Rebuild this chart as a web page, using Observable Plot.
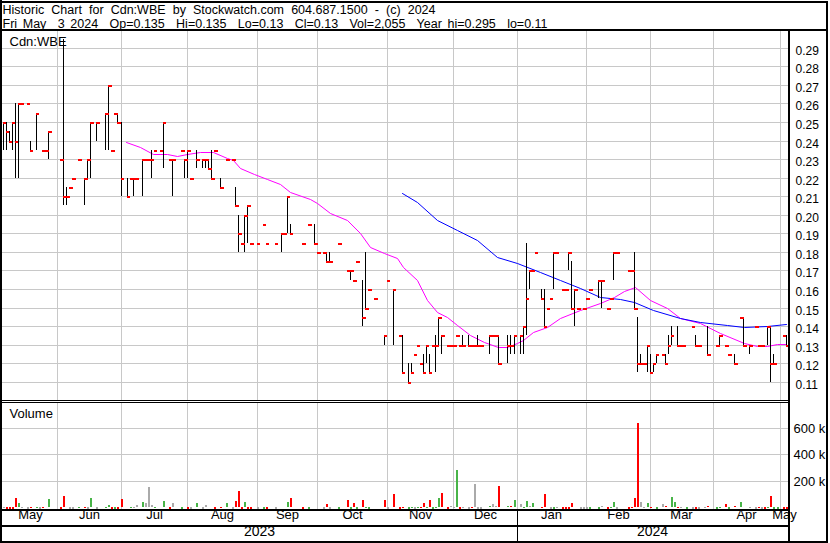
<!DOCTYPE html>
<html>
<head>
<meta charset="utf-8">
<script src="https://cdn.jsdelivr.net/npm/d3@7"></script>
<script src="https://cdn.jsdelivr.net/npm/@observablehq/plot@0.6"></script>
<style>
  html, body { margin: 0; padding: 0; background: #fff; }
  #chart { position: relative; width: 830px; height: 543px; overflow: hidden; background: #fff;
           font-family: "Liberation Sans", Arial, sans-serif; color: #000; }
  .rule { position: absolute; background: #000; }
  .panel { position: absolute; left: 0; }
  .panel svg { display: block; }
</style>
</head>
<body>
<div id="chart">
  <div id="title" class="panel" style="top:0px"></div>
  <div id="price" class="panel" style="top:31px"></div>
  <div id="volume" class="panel" style="top:400px"></div>
</div>
<script>
// ---------------- data ----------------
const titleLines = [
  "Historic Chart for Cdn:WBE by Stockwatch.com 604.687.1500 - (c) 2024",
  "Fri May  3 2024  Op=0.135  Hi=0.135  Lo=0.13  Cl=0.13  Vol=2,055  Year hi=0.295  lo=0.11"
];
const symbolLabel = "Cdn:WBE";
const volumeLabel = "Volume";
const firstSession = "2023-05-08";
const lastSession = "2024-05-03";
const monthStarts = ["2023-06-01","2023-07-01","2023-08-01","2023-09-01","2023-10-01","2023-11-01",
                     "2023-12-01","2024-01-01","2024-02-01","2024-03-01","2024-04-01","2024-05-01"];
const monthNames = ["May","Jun","Jul","Aug","Sep","Oct","Nov","Dec","Jan","Feb","Mar","Apr","May"];
const yearNames = ["2023","2024"];
const yearStart = "2024-01-01";
const priceTicks = [0.11,0.12,0.13,0.14,0.15,0.16,0.17,0.18,0.19,0.20,0.21,0.22,0.23,0.24,0.25,0.26,0.27,0.28,0.29];
const volumeTicks = [200000, 400000, 600000];

// session index = weekday number counted from firstSession
const closeDay = [0,1,2,3,4,5,6,8,9,11,13,14,15,19,20,21,22,23,25,27,28,29,31,34,35,36,37,38,39,41,42,43,44,46,47,48,49,50,52,53,55,56,59,60,61,62,64,66,67,68,69,70,72,74,76,77,78,79,80,81,82,84,86,87,90,92,93,94,95,99,101,103,104,106,107,108,111,114,115,116,117,119,120,121,123,126,127,129,131,132,134,135,136,137,138,139,140,141,142,143,144,145,147,148,149,150,151,152,154,155,156,157,158,161,162,163,164,167,168,169,171,172,173,174,175,176,178,179,180,181,182,183,185,186,187,188,189,190,192,193,194,197,198,200,201,202,203,207,208,209,210,211,212,213,214,215,216,218,219,220,221,223,224,225,228,229,230,233,236,237,239,240,242,244,245,247,249,250,251,253,254,255,258,259];
const closePrice = [0.25,0.245,0.24,0.25,0.24,0.26,0.26,0.26,0.235,0.255,0.235,0.235,0.245,0.23,0.21,0.21,0.215,0.22,0.23,0.22,0.23,0.25,0.25,0.255,0.27,0.235,0.255,0.25,0.22,0.21,0.22,0.22,0.22,0.23,0.23,0.23,0.23,0.235,0.235,0.25,0.23,0.23,0.235,0.23,0.235,0.22,0.23,0.23,0.23,0.225,0.22,0.235,0.215,0.23,0.23,0.205,0.19,0.185,0.2,0.205,0.185,0.185,0.195,0.185,0.185,0.19,0.19,0.21,0.19,0.185,0.195,0.185,0.18,0.18,0.175,0.175,0.185,0.17,0.17,0.165,0.175,0.145,0.15,0.16,0.155,0.135,0.165,0.16,0.135,0.115,0.11,0.115,0.125,0.13,0.12,0.115,0.13,0.115,0.13,0.13,0.145,0.135,0.13,0.13,0.13,0.135,0.13,0.13,0.13,0.13,0.13,0.13,0.13,0.135,0.135,0.135,0.12,0.13,0.13,0.135,0.135,0.14,0.155,0.17,0.17,0.18,0.155,0.14,0.15,0.155,0.18,0.18,0.16,0.16,0.18,0.15,0.16,0.15,0.15,0.155,0.16,0.165,0.165,0.15,0.155,0.18,0.18,0.17,0.17,0.15,0.12,0.12,0.12,0.13,0.115,0.12,0.125,0.125,0.12,0.13,0.135,0.13,0.13,0.13,0.14,0.13,0.13,0.125,0.13,0.135,0.13,0.125,0.12,0.145,0.13,0.13,0.14,0.13,0.13,0.14,0.12,0.12,0.135,0.13];

const rangeDay  = [0,1,2,3,4,5,9,11,15,20,21,27,28,29,31,34,35,38,39,41,43,46,49,53,56,60,61,64,66,67,68,69,72,77,78,80,81,92,94,95,103,107,108,115,119,120,126,129,132,134,135,139,140,141,143,144,145,152,154,157,161,164,167,168,169,171,172,173,174,178,179,182,187,188,189,197,198,202,209,210,211,213,214,215,216,219,220,221,223,229,233,237,242,245,247,253,254,255,259];
const rangeHigh = [0.25,0.25,0.245,0.25,0.26,0.26,0.24,0.255,0.245,0.295,0.215,0.22,0.23,0.25,0.25,0.255,0.27,0.255,0.25,0.22,0.22,0.23,0.235,0.25,0.23,0.23,0.235,0.235,0.23,0.23,0.23,0.235,0.22,0.215,0.2,0.2,0.205,0.19,0.21,0.195,0.195,0.18,0.18,0.17,0.165,0.18,0.135,0.16,0.135,0.12,0.12,0.125,0.13,0.125,0.135,0.145,0.135,0.135,0.135,0.135,0.135,0.135,0.135,0.135,0.135,0.135,0.14,0.185,0.17,0.16,0.16,0.18,0.18,0.175,0.16,0.165,0.165,0.18,0.18,0.145,0.125,0.13,0.125,0.12,0.125,0.125,0.135,0.14,0.14,0.135,0.14,0.135,0.125,0.145,0.13,0.14,0.14,0.125,0.135];
const rangeLow  = [0.235,0.235,0.24,0.235,0.22,0.22,0.235,0.235,0.23,0.205,0.205,0.205,0.22,0.22,0.24,0.235,0.235,0.25,0.21,0.21,0.21,0.21,0.22,0.225,0.21,0.22,0.22,0.225,0.225,0.225,0.225,0.22,0.215,0.205,0.18,0.18,0.185,0.18,0.19,0.19,0.185,0.175,0.175,0.165,0.14,0.15,0.13,0.13,0.115,0.11,0.115,0.115,0.12,0.115,0.115,0.13,0.125,0.13,0.13,0.13,0.125,0.12,0.12,0.125,0.125,0.125,0.125,0.135,0.16,0.155,0.14,0.16,0.17,0.15,0.14,0.155,0.15,0.165,0.15,0.115,0.12,0.115,0.115,0.115,0.12,0.12,0.125,0.13,0.13,0.13,0.125,0.13,0.12,0.13,0.125,0.13,0.11,0.12,0.13];

const volDay    = [0,1,2,3,4,5,6,8,9,11,12,13,14,15,19,20,21,22,23,25,27,28,29,31,34,35,36,37,38,39,41,42,43,44,46,47,48,49,50,53,55,56,59,60,61,62,64,66,67,68,69,70,72,74,76,77,78,79,80,81,82,84,86,87,90,92,94,95,99,101,103,104,106,107,108,111,114,115,116,117,119,120,121,123,126,127,129,131,132,134,135,136,137,138,139,140,141,142,143,144,145,147,148,149,150,151,152,154,155,156,157,158,159,161,162,163,164,167,168,169,171,172,173,174,175,176,178,179,180,181,182,183,185,186,187,188,189,190,191,192,193,194,197,198,200,201,202,203,207,208,209,210,211,212,213,214,215,216,218,219,220,221,222,223,224,226,228,229,230,232,233,236,237,239,240,242,244,245,247,249,250,251,252,253,254,255,256,258,259];
const volAmount = [10000,3000,3000,3000,80000,42500,5000,3000,10000,5000,3000,5000,12500,72500,3000,95000,12500,3000,3000,5000,5000,3000,80000,3000,5000,27500,3000,3000,3000,72500,12500,5000,5000,27500,55000,47500,162500,27500,5000,62500,3000,47500,3000,12500,3000,3000,47500,3000,27500,12500,12500,3000,5000,47500,3000,57500,137500,3000,55000,3000,3000,3000,3000,3000,3000,17500,55000,80000,3000,3000,17500,17500,3000,40000,3000,3000,67500,3000,47500,3000,67500,5000,3000,17500,67500,3000,115000,3000,10000,3000,5000,3000,5000,10000,47500,10000,70000,3000,10000,85000,122500,3000,25000,10000,295000,3000,10000,3000,4000,190000,3000,3000,17500,25000,35000,25000,175000,25000,25000,67500,35000,10000,62500,25000,42500,17500,4000,115000,17500,3000,3000,4000,3000,3000,3000,47500,12500,17500,3000,3000,3000,3000,3000,25000,3000,4000,55000,3000,3000,4000,80000,647500,55000,10000,47500,10000,17500,3000,35000,25000,17500,87500,55000,10000,10000,3000,3000,3000,3000,10000,25000,3000,10000,35000,3000,25000,55000,17500,4000,3000,4000,3000,3000,10000,100000,3000,3000,3000,2055];
const volDir    = ["f","d","d","d","d","u","f","f","d","u","f","d","f","u","d","d","f","f","f","u","d","f","u","f","u","u","d","u","d","d","d","u","f","f","u","f","f","f","u","u","d","f","u","d","d","f","u","f","f","f","d","d","d","u","f","d","d","d","u","d","d","f","u","d","f","u","u","d","d","u","d","d","f","d","f","u","d","u","d","u","d","u","u","d","d","f","d","d","d","u","u","f","u","d","d","u","d","u","u","u","d","d","f","f","u","d","f","f","d","f","f","f","d","u","f","f","d","u","d","u","f","u","u","f","u","u","d","d","u","f","u","f","d","d","d","d","u","d","f","f","f","u","u","f","d","u","u","f","d","d","d","d","f","f","u","d","u","u","f","d","u","u","u","d","f","u","f","d","f","f","d","u","u","d","u","d","u","d","f","f","d","f","d","u","d","u","u","d","d"];

const maShortDay = [40.8,45.5,49.8,54.4,57.6,60.9,65.3,69.6,74.2,76.3,78.6,83.0,87.4,91.8,95.1,101.7,103.9,108.3,113.9,118.3,121.6,126.0,130.4,132.6,137.0,140.3,143.6,146.9,150.3,154.7,159.1,164.0,166.8,170.1,172.3,175.6,180.0,184.4,191.0,197.6,202.1,205.4,209.3,214.2,219.8,224.2,230.8,237.4,245.1,249.5,252.8,256.2,259];
const maShortVal = [0.2392,0.2364,0.2326,0.2326,0.2317,0.2327,0.2338,0.2338,0.2304,0.2295,0.225,0.2218,0.2191,0.2166,0.2124,0.2083,0.2062,0.2008,0.1972,0.19,0.1828,0.1792,0.1765,0.172,0.1648,0.154,0.1478,0.145,0.1406,0.1352,0.1316,0.1289,0.1289,0.1307,0.1325,0.137,0.1397,0.1442,0.1487,0.1523,0.1558,0.1591,0.1612,0.154,0.1496,0.1442,0.1415,0.1361,0.1307,0.1292,0.1292,0.1303,0.1303];
const maLongDay = [132.1,137.0,143.6,150.3,156.9,163.5,170.1,177.8,184.4,191.0,197.6,204.3,208.7,215.3,224.2,230.8,239.6,245.1,252.8,259];
const maLongVal = [0.2116,0.2070,0.1972,0.1918,0.1864,0.1774,0.1738,0.1693,0.1648,0.1603,0.1558,0.1544,0.1531,0.1487,0.1442,0.1424,0.1406,0.1397,0.14,0.1411];

// ---------------- build ----------------
const chart = document.getElementById("chart");
const GRID = "#c8c8c8";
const FONT = '"Liberation Sans", Arial, sans-serif';
const style = {fontFamily: FONT, fontSize: "12px", color: "#000", background: "transparent", overflow: "visible"};

function session(s) {
  const days = Math.round((Date.parse(s + "T00:00:00Z") - Date.parse(firstSession + "T00:00:00Z")) / 864e5);
  return Math.floor(days / 7) * 5 + Math.min(days % 7, 4);
}
const lastIdx = session(lastSession);
const xDomain = [-0.2, lastIdx + 0.8];
const monthLines = monthStarts.map(session);
const bounds = [xDomain[0], ...monthLines, xDomain[1]];
const monthMid = monthNames.map((_, i) => (bounds[i] + bounds[i + 1]) / 2);
const yearBreak = session(yearStart);
const yearMid = [(xDomain[0] + yearBreak) / 2, (yearBreak + xDomain[1]) / 2];

const closes = closeDay.map((d, i) => ({day: d, close: closePrice[i]}));
const ranges = rangeDay.map((d, i) => ({day: d, high: rangeHigh[i], low: rangeLow[i]}));
const vols = volDay.map((d, i) => ({day: d, vol: volAmount[i], dir: volDir[i]}));
const maS = maShortDay.map((d, i) => ({day: d, v: maShortVal[i]}));
const maL = maLongDay.map((d, i) => ({day: d, v: maLongVal[i]}));

// title block (two header lines)
const TITLE_SIZE = 12.5;
const title = Plot.plot({
  width: 830, height: 31, margin: 0,
  style,
  marks: [
    Plot.text([titleLines[0]], {text: d => d, frameAnchor: "top-left", dx: 2, dy: 13.5, lineAnchor: "bottom",
                                textAnchor: "start", fontSize: TITLE_SIZE}),
    Plot.text([titleLines[1]], {text: d => d, frameAnchor: "top-left", dx: 2, dy: 27.4, lineAnchor: "bottom",
                                textAnchor: "start", fontSize: TITLE_SIZE})
  ]
});
document.getElementById("title").appendChild(title);
// stretch the word gaps so each header line spans the same width as in the original layout
const titleWidths = [433, 545];
title.querySelectorAll("text").forEach((t, i) => {
  t.style.whiteSpace = "pre";
  const natural = t.getComputedTextLength();
  const spaces = (titleLines[i].match(/ /g) || []).length;
  const extra = Math.max(0, (titleWidths[i] - natural) / spaces);
  t.style.wordSpacing = extra.toFixed(2) + "px";
});

const price = Plot.plot({
  width: 830, height: 369,
  marginLeft: 2, marginRight: 42, marginTop: 0, marginBottom: 0,
  style,
  x: {type: "linear", domain: xDomain, round: true, axis: null},
  y: {domain: [0.11, 0.29], range: [350.7, 16.8], round: true},
  marks: [
    Plot.ruleY(priceTicks, {stroke: GRID}),
    Plot.ruleX(monthLines, {stroke: GRID}),
    Plot.axisY(priceTicks, {anchor: "right", tickSize: 0, tickPadding: 7, tickFormat: d3.format(".2f"),
                            fontSize: 12, dy: 2.4, label: null}),
    Plot.line(maS, {x: "day", y: "v", stroke: "#ff00ff", strokeWidth: 1}),
    Plot.line(maL, {x: "day", y: "v", stroke: "#0000ff", strokeWidth: 1}),
    Plot.ruleX(ranges, {x: "day", y1: "low", y2: "high", stroke: "#000"}),
    Plot.ruleY(closes, {y: "close", x1: "day", x2: d => d.day + 1.2, stroke: "#ff0000", strokeWidth: 2, dy: 0.5}),
    Plot.text([symbolLabel], {text: d => d, frameAnchor: "top-left", dx: 7, dy: 5.5, lineAnchor: "top",
                              textAnchor: "start", fontSize: 13})
  ]
});
document.getElementById("price").appendChild(price);

const volume = Plot.plot({
  width: 830, height: 143,
  marginLeft: 2, marginRight: 42, marginTop: 2, marginBottom: 34,
  style,
  x: {type: "linear", domain: xDomain, round: true, axis: null},
  y: {domain: [0, 800000], range: [107, 1], round: true},
  color: {domain: ["u", "d", "f"], range: ["#48b448", "#ff0000", "#aaaaaa"]},
  marks: [
    Plot.ruleY(volumeTicks, {stroke: GRID}),
    Plot.ruleX(monthLines, {stroke: GRID}),
    Plot.axisY(volumeTicks, {anchor: "right", tickSize: 0, tickPadding: 5, tickFormat: d => d / 1000 + " k",
                             fontSize: 13, dy: 0.8, label: null}),
    Plot.ruleX(vols, {x: "day", y1: 0, y2: "vol", stroke: "dir", strokeWidth: 2, dx: 0.5, insetBottom: -2}),
    Plot.text([volumeLabel], {text: d => d, frameAnchor: "top-left", dx: 7, dy: 6.5, lineAnchor: "top",
                              textAnchor: "start", fontSize: 13}),
    Plot.text(monthNames, {text: d => d, x: (d, i) => monthMid[i], frameAnchor: "bottom", dy: 9.5, fontSize: 13}),
    Plot.text(yearNames, {text: d => d, x: (d, i) => yearMid[i], frameAnchor: "bottom", dy: 26, fontSize: 14})
  ]
});
document.getElementById("volume").appendChild(volume);

// frame lines
function line(l, t, w, h) {
  const d = document.createElement("div");
  d.className = "rule";
  Object.assign(d.style, {left: l + "px", top: t + "px", width: w + "px", height: h + "px"});
  chart.appendChild(d);
}
line(0, 1, 828, 2);      // top
line(0, 0, 2, 543);      // left
line(826, 1, 2, 542);    // right
line(0, 541, 828, 2);    // bottom
line(0, 29, 828, 2);     // under title
line(788, 31, 2, 512);   // right edge of panels
line(0, 400, 790, 1);    // price / volume separator
line(0, 402, 790, 1);
line(0, 509, 790, 2);    // under volume
line(0, 525, 790, 2);    // between month and year rows
const janX = volume.scale("x").apply(yearBreak);
line(janX, 510, 1, 31);
</script>
</body>
</html>
